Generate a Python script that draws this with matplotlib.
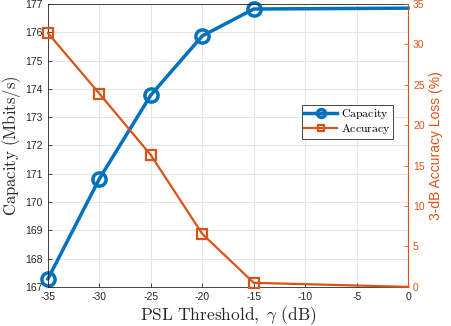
import numpy as np
import matplotlib
matplotlib.use("Agg")
from matplotlib import pyplot as plt

plt.rcParams['mathtext.fontset'] = 'cm'
plt.rcParams['font.family'] = ['Liberation Sans', 'DejaVu Sans']

# data
psl = [-35, -30, -25, -20, -15, 0]
capacity = [167.28, 170.82, 173.78, 175.87, 176.82, 176.85]
accuracy = [31.4, 23.9, 16.3, 6.55, 0.5, 0.0]
xticks = [-35, -30, -25, -20, -15, -10, -5, 0]

blue = '#0072BD'
orange = '#D95319'

fig = plt.figure(figsize=(4.52, 3.26), dpi=100)
ax = fig.add_axes([0.106, 0.12, 0.797, 0.868])
ax2 = ax.twinx()

l1, = ax.plot(psl, capacity, color=blue, lw=2.5, marker='o', ms=9.5,
              mfc='none', mew=2.5, markevery=[0, 1, 2, 3, 4],
              label=r'$\mathrm{Capacity}$')
l2, = ax2.plot(psl, accuracy, color=orange, lw=1.6, marker='s', ms=6.5,
               mfc='none', mew=1.6, markevery=[0, 1, 2, 3, 4],
               label=r'$\mathrm{Accuracy}$')
for ln in (l1, l2):
    ln.set_clip_on(False)

ax.set_xlim(-35, 0)
ax.set_ylim(167, 177)
ax.set_yticks(np.arange(167, 178, 1))
ax.set_xticks(xticks)
ax.set_xticklabels([str(t) for t in xticks])
ax2.set_ylim(0, 35)
ax2.set_yticks(np.arange(0, 36, 5))

ax.grid(True, color='#e6e6e6', lw=0.8)
ax.set_axisbelow(True)

ax.tick_params(labelsize=7.5, colors='#262626', length=3, width=0.6, direction='in')
ax2.tick_params(labelsize=7.5, colors=orange, length=3, width=0.6, direction='in')

for s in ['left', 'top', 'bottom']:
    ax.spines[s].set_color('#262626')
    ax.spines[s].set_linewidth(0.6)
ax2.spines['right'].set_color(orange)
ax2.spines['right'].set_linewidth(0.8)
ax2.spines['left'].set_visible(False)
ax2.spines['top'].set_visible(False)
ax2.spines['bottom'].set_visible(False)
ax.spines['right'].set_visible(False)

ax.set_xlabel(r'$\mathrm{PSL\ Threshold,}\ \gamma\ \mathrm{(dB)}$', fontsize=12.5, color='#262626', labelpad=2)
ax.set_ylabel(r'$\mathrm{Capacity\ (Mbits/s)}$', fontsize=12, color='#262626', labelpad=2)
ax2.set_ylabel('3-dB Accuracy Loss (%)', fontsize=10, color=orange, labelpad=3)

leg = ax2.legend(handles=[l1, l2], loc='upper left', bbox_to_anchor=(0.705, 0.643),
                 fontsize=8.5, fancybox=False, markerscale=0.6,
                 edgecolor='#262626', framealpha=1, borderpad=0.2, handlelength=2.8,
                 handletextpad=0.3, labelspacing=0.1, borderaxespad=0)
leg.get_frame().set_linewidth(0.6)
for t in leg.get_texts():
    t.set_color('black')

fig.savefig('out.png', dpi=100)
